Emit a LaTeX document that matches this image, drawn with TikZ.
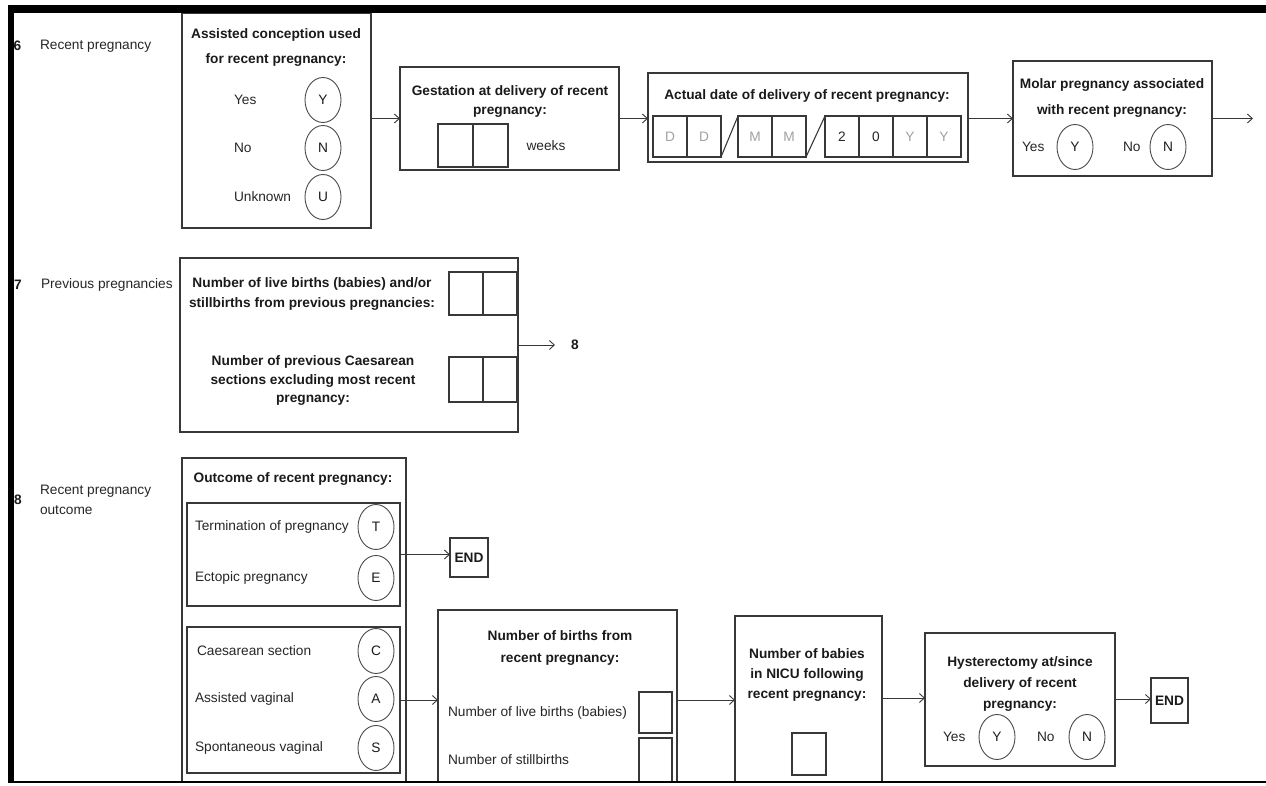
\documentclass[tikz,border=0pt]{standalone}
\usepackage{fontspec}
\setmainfont{Liberation Sans}
\usetikzlibrary{arrows.meta,shapes.geometric}
\definecolor{ink}{HTML}{1A1A1A}
\definecolor{txt}{HTML}{262626}
\definecolor{boxc}{HTML}{383838}
\definecolor{circc}{HTML}{4A4A4A}
\definecolor{lite}{HTML}{A0A0A0}
\begin{document}
\begin{tikzpicture}[x=1pt,y=-1pt,
  every node/.style={inner sep=0pt, outer sep=0pt, text=ink},
  reg/.style={font=\fontsize{13.7}{16}\selectfont, text=txt},
  num/.style={font=\bfseries\fontsize{13.7}{16}\selectfont},
  ttl/.style={font=\bfseries\fontsize{13.7}{#1}\selectfont, align=center},
  ttl/.default=21,
  frame/.style={draw=boxc, line width=1.3pt},
  opt/.style={draw=circc, line width=0.9pt, ellipse, minimum width=36pt, minimum height=45pt, font=\fontsize{13.7}{16}\selectfont},
  cell/.style={draw=boxc, line width=1.1pt},
  dcell/.style={draw=boxc, line width=1.1pt, minimum width=34pt, minimum height=41pt, font=\fontsize{13.7}{16}\selectfont},
  arr/.style={draw=boxc, line width=0.9pt, -{Straight Barb[length=5pt,width=9pt]}},
]
\useasboundingbox (0,0) rectangle (1266,785);

% ---------- section 6 ----------
\node[num] (n6) at (17.5,46) {6};
\node[reg, anchor=west] (l6) at (40,46) {Recent pregnancy};

\node[frame, minimum width=189pt, minimum height=215pt] (A) at (276.5,120.5) {};
\node[ttl=25] (At) at (276,47) {Assisted conception used\\for recent pregnancy:};
\node[reg, anchor=west] (Ay) at (234,100) {Yes};
\node[reg, anchor=west] (An) at (234,148) {No};
\node[reg, anchor=west] (Au) at (234,197) {Unknown};
\node[opt] (AY) at (323,100) {Y};
\node[opt] (AN) at (323,148) {N};
\node[opt] (AU) at (323,197) {U};

\node[frame, minimum width=219pt, minimum height=103pt] (B) at (509.5,118.5) {};
\node[ttl=19] (Bt) at (510,101) {Gestation at delivery of recent\\pregnancy:};
\node[cell, minimum width=35pt, minimum height=43pt] (Bc1) at (455.5,145.5) {};
\node[cell, minimum width=35pt, minimum height=43pt] (Bc2) at (490.5,145.5) {};
\node[reg] (Bw) at (546,146) {weeks};

\node[frame, minimum width=320pt, minimum height=89pt] (C) at (808,117.5) {};
\node[ttl] (Ct) at (807,96) {Actual date of delivery of recent pregnancy:};
\node[dcell, text=lite] (d1) at (670,136.5) {D};
\node[dcell, text=lite] (d2) at (704,136.5) {D};
\node[dcell, text=lite] (m1) at (755,136.5) {M};
\node[dcell, text=lite] (m2) at (789,136.5) {M};
\node[dcell, text=txt] (y1) at (842,136.5) {2};
\node[dcell, text=txt] (y2) at (876,136.5) {0};
\node[dcell, text=lite] (y3) at (910,136.5) {Y};
\node[dcell, text=lite] (y4) at (944,136.5) {Y};
\draw[boxc, line width=1.1pt] (d2.south east) -- (m1.north west);
\draw[boxc, line width=1.1pt] (m2.south east) -- (y1.north west);

\node[frame, minimum width=199pt, minimum height=115pt] (D) at (1112.5,118.5) {};
\node[ttl=26] (Dt) at (1112,97.5) {Molar pregnancy associated\\with recent pregnancy:};
\node[reg, anchor=west] (Dy) at (1022,147) {Yes};
\node[opt] (DY) at (1075,147) {Y};
\node[reg, anchor=west] (Dn) at (1123,147) {No};
\node[opt] (DN) at (1168,147) {N};
\coordinate (Dout) at (1253,118.5);

\draw[arr] (A.east |- B.west) -- (B.west);
\draw[arr] (B.east) -- (B.east -| C.west);
\draw[arr] (C.east |- D.west) -- (D.west);
\draw[arr] (D.east) -- (Dout);

% ---------- section 7 ----------
\node[num] (n7) at (18,285) {7};
\node[reg, anchor=west] (l7) at (41,285) {Previous pregnancies};

\node[frame, minimum width=338pt, minimum height=174pt] (E) at (349,345) {};
\node[ttl=20] (Et1) at (312,294) {Number of live births (babies) and/or\\stillbirths from previous pregnancies:};
\node[cell, minimum width=34pt, minimum height=43pt] (Ec1) at (466,293.5) {};
\node[cell, minimum width=34pt, minimum height=43pt] (Ec2) at (500,293.5) {};
\node[ttl=18.5] (Et2) at (313,380.5) {Number of previous Caesarean\\sections excluding most recent\\pregnancy:};
\node[cell, minimum width=34pt, minimum height=45pt] (Ec3) at (466,379.5) {};
\node[cell, minimum width=34pt, minimum height=45pt] (Ec4) at (500,379.5) {};
\coordinate (Eout) at (555,345);
\node[num] (to8) at (575,345) {8};
\draw[arr] (E.east) -- (Eout);

% ---------- section 8 ----------
\node[num] (n8) at (18,500) {8};
\node[anchor=west, align=left, font=\fontsize{13.7}{20}\selectfont, text=txt] (l8) at (40,500) {Recent pregnancy\\outcome};

\node[frame, minimum width=224pt, minimum height=324pt] (F) at (294,620) {};
\node[ttl] (Ft) at (293,479) {Outcome of recent pregnancy:};
\node[frame, minimum width=213pt, minimum height=103pt] (G1) at (293.5,554.5) {};
\node[reg, anchor=west] (Gt) at (195,527) {Termination of pregnancy};
\node[opt] (GT) at (376,527) {T};
\node[reg, anchor=west] (Ge) at (195,578) {Ectopic pregnancy};
\node[opt] (GE) at (376,578) {E};

\node[frame, minimum width=213pt, minimum height=146pt] (G2) at (293.5,700) {};
\node[reg, anchor=west] (Gc) at (197,651) {Caesarean section};
\node[opt] (GC) at (376,651) {C};
\node[reg, anchor=west] (Ga) at (195,699) {Assisted vaginal};
\node[opt] (GA) at (376,699) {A};
\node[reg, anchor=west] (Gs) at (195,748) {Spontaneous vaginal};
\node[opt] (GS) at (376,748) {S};

\node[frame, minimum width=38pt, minimum height=39pt, font=\bfseries\fontsize{13.7}{16}\selectfont] (END1) at (469,557.5) {END};
\draw[arr] (G1.east) -- (G1.east -| END1.west);

\node[frame, minimum width=239pt, minimum height=172pt] (H) at (557.5,696) {};
\node[ttl=22] (Ht) at (560,647.5) {Number of births from\\recent pregnancy:};
\node[reg, anchor=west] (Hl) at (448,713) {Number of live births (babies)};
\node[cell, minimum width=33pt, minimum height=41pt] (Hc1) at (655.5,712.5) {};
\node[reg, anchor=west] (Hs) at (448,760) {Number of stillbirths};
\node[cell, minimum width=33pt, minimum height=44pt] (Hc2) at (655.5,760) {};
\draw[arr] (G2.east) -- (G2.east -| H.west);

\node[frame, minimum width=147pt, minimum height=166pt] (I) at (808.5,699) {};
\node[ttl=20] (It) at (807,674.5) {Number of babies\\in NICU following\\recent pregnancy:};
\node[cell, minimum width=34pt, minimum height=42pt] (Ic) at (809,754) {};
\draw[arr] (H.east |- 0,700) -- (I.west |- 0,700);

\node[frame, minimum width=190pt, minimum height=133pt] (J) at (1020,699.5) {};
\node[ttl=21] (Jt) at (1020,683.5) {Hysterectomy at/since\\delivery of recent\\pregnancy:};
\node[reg, anchor=west] (Jy) at (943,737) {Yes};
\node[opt] (JY) at (997,737) {Y};
\node[reg, anchor=west] (Jn) at (1037,737) {No};
\node[opt] (JN) at (1087,737) {N};
\draw[arr] (I.east |- 0,698) -- (J.west |- 0,698);

\node[frame, minimum width=37pt, minimum height=45pt, font=\bfseries\fontsize{13.7}{16}\selectfont] (END2) at (1169.5,700.5) {END};
\draw[arr] (J.east |- 0,699) -- (END2.west |- 0,699);

% ---------- page frame ----------
\fill[black] (8,5) rectangle (1266,13);
\fill[black] (8,5) rectangle (14,783);
\draw[black, line width=2pt] (8,782) -- (1266,782);
\end{tikzpicture}
\end{document}
